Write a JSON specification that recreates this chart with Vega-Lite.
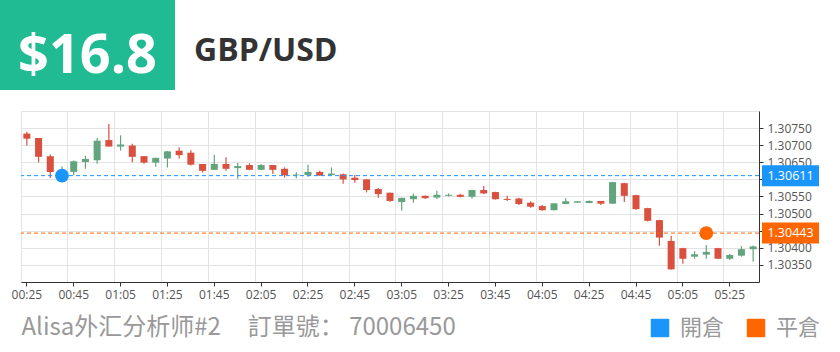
{
  "$schema": "https://vega.github.io/schema/vega-lite/v6.json",
  "background": "white",
  "padding": {"left": 0, "top": 0, "right": 0, "bottom": 12},
  "spacing": 21,
  "config": {"font": "Open Sans", "view": {"stroke": null}},
  "datasets": {
    "header": [{"price": "$16.8", "pair": "GBP/USD", "blank": ""}],
    "trades": [
      {"t": "00:40", "price": 1.30611, "type": "開倉"},
      {"t": "05:15", "price": 1.30443, "type": "平倉"}
    ],
    "candles": [
      {"t": "00:25", "o": 1.30734, "h": 1.30739, "l": 1.30699, "c": 1.30719},
      {"t": "00:30", "o": 1.30721, "h": 1.30721, "l": 1.30650, "c": 1.30666},
      {"t": "00:35", "o": 1.30668, "h": 1.30673, "l": 1.30604, "c": 1.30622},
      {"t": "00:40", "o": 1.30612, "h": 1.30638, "l": 1.30605, "c": 1.30625},
      {"t": "00:45", "o": 1.30622, "h": 1.30655, "l": 1.30612, "c": 1.30653},
      {"t": "00:50", "o": 1.30651, "h": 1.30669, "l": 1.30631, "c": 1.30660},
      {"t": "00:55", "o": 1.30656, "h": 1.30721, "l": 1.30646, "c": 1.30713},
      {"t": "01:00", "o": 1.30715, "h": 1.30762, "l": 1.30696, "c": 1.30696},
      {"t": "01:05", "o": 1.30696, "h": 1.30729, "l": 1.30684, "c": 1.30702},
      {"t": "01:10", "o": 1.30699, "h": 1.30704, "l": 1.30650, "c": 1.30666},
      {"t": "01:15", "o": 1.30668, "h": 1.30668, "l": 1.30646, "c": 1.30649},
      {"t": "01:20", "o": 1.30649, "h": 1.30663, "l": 1.30637, "c": 1.30663},
      {"t": "01:25", "o": 1.30661, "h": 1.30683, "l": 1.30635, "c": 1.30682},
      {"t": "01:30", "o": 1.30684, "h": 1.30694, "l": 1.30661, "c": 1.30671},
      {"t": "01:35", "o": 1.30678, "h": 1.30685, "l": 1.30641, "c": 1.30643},
      {"t": "01:40", "o": 1.30645, "h": 1.30645, "l": 1.30620, "c": 1.30625},
      {"t": "01:45", "o": 1.30628, "h": 1.30672, "l": 1.30628, "c": 1.30645},
      {"t": "01:50", "o": 1.30645, "h": 1.30665, "l": 1.30625, "c": 1.30631},
      {"t": "01:55", "o": 1.30633, "h": 1.30649, "l": 1.30602, "c": 1.30639},
      {"t": "02:00", "o": 1.30642, "h": 1.30647, "l": 1.30627, "c": 1.30628},
      {"t": "02:05", "o": 1.30628, "h": 1.30645, "l": 1.30627, "c": 1.30642},
      {"t": "02:10", "o": 1.30642, "h": 1.30642, "l": 1.30616, "c": 1.30628},
      {"t": "02:15", "o": 1.30631, "h": 1.30635, "l": 1.30605, "c": 1.30612},
      {"t": "02:20", "o": 1.30612, "h": 1.30621, "l": 1.30603, "c": 1.30614},
      {"t": "02:25", "o": 1.30613, "h": 1.30643, "l": 1.30608, "c": 1.30622},
      {"t": "02:30", "o": 1.30622, "h": 1.30625, "l": 1.30611, "c": 1.30611},
      {"t": "02:35", "o": 1.30613, "h": 1.30635, "l": 1.30612, "c": 1.30617},
      {"t": "02:40", "o": 1.30615, "h": 1.30617, "l": 1.30587, "c": 1.30600},
      {"t": "02:45", "o": 1.30605, "h": 1.30613, "l": 1.30590, "c": 1.30598},
      {"t": "02:50", "o": 1.30600, "h": 1.30601, "l": 1.30562, "c": 1.30569},
      {"t": "02:55", "o": 1.30572, "h": 1.30575, "l": 1.30546, "c": 1.30557},
      {"t": "03:00", "o": 1.30561, "h": 1.30562, "l": 1.30535, "c": 1.30537},
      {"t": "03:05", "o": 1.30534, "h": 1.30546, "l": 1.30509, "c": 1.30546},
      {"t": "03:10", "o": 1.30542, "h": 1.30559, "l": 1.30532, "c": 1.30552},
      {"t": "03:15", "o": 1.30552, "h": 1.30553, "l": 1.30543, "c": 1.30545},
      {"t": "03:20", "o": 1.30547, "h": 1.30567, "l": 1.30543, "c": 1.30555},
      {"t": "03:25", "o": 1.30552, "h": 1.30559, "l": 1.30550, "c": 1.30555},
      {"t": "03:30", "o": 1.30555, "h": 1.30558, "l": 1.30548, "c": 1.30549},
      {"t": "03:35", "o": 1.30549, "h": 1.30570, "l": 1.30544, "c": 1.30569},
      {"t": "03:40", "o": 1.30569, "h": 1.30581, "l": 1.30557, "c": 1.30559},
      {"t": "03:45", "o": 1.30563, "h": 1.30564, "l": 1.30541, "c": 1.30542},
      {"t": "03:50", "o": 1.30543, "h": 1.30552, "l": 1.30537, "c": 1.30540},
      {"t": "03:55", "o": 1.30544, "h": 1.30546, "l": 1.30525, "c": 1.30528},
      {"t": "04:00", "o": 1.30532, "h": 1.30536, "l": 1.30517, "c": 1.30520},
      {"t": "04:05", "o": 1.30522, "h": 1.30525, "l": 1.30508, "c": 1.30510},
      {"t": "04:10", "o": 1.30510, "h": 1.30530, "l": 1.30509, "c": 1.30530},
      {"t": "04:15", "o": 1.30528, "h": 1.30545, "l": 1.30527, "c": 1.30536},
      {"t": "04:20", "o": 1.30532, "h": 1.30537, "l": 1.30531, "c": 1.30536},
      {"t": "04:25", "o": 1.30531, "h": 1.30538, "l": 1.30530, "c": 1.30537},
      {"t": "04:30", "o": 1.30537, "h": 1.30537, "l": 1.30525, "c": 1.30529},
      {"t": "04:35", "o": 1.30529, "h": 1.30593, "l": 1.30528, "c": 1.30592},
      {"t": "04:40", "o": 1.30589, "h": 1.30590, "l": 1.30534, "c": 1.30552},
      {"t": "04:45", "o": 1.30554, "h": 1.30555, "l": 1.30511, "c": 1.30513},
      {"t": "04:50", "o": 1.30516, "h": 1.30517, "l": 1.30477, "c": 1.30479},
      {"t": "04:55", "o": 1.30481, "h": 1.30482, "l": 1.30406, "c": 1.30430},
      {"t": "05:00", "o": 1.30420, "h": 1.30435, "l": 1.30336, "c": 1.30337},
      {"t": "05:05", "o": 1.30399, "h": 1.30400, "l": 1.30353, "c": 1.30368},
      {"t": "05:10", "o": 1.30374, "h": 1.30390, "l": 1.30368, "c": 1.30381},
      {"t": "05:15", "o": 1.30380, "h": 1.30408, "l": 1.30368, "c": 1.30388},
      {"t": "05:20", "o": 1.30399, "h": 1.30400, "l": 1.30367, "c": 1.30368},
      {"t": "05:25", "o": 1.30368, "h": 1.30382, "l": 1.30364, "c": 1.30379},
      {"t": "05:30", "o": 1.30377, "h": 1.30405, "l": 1.30374, "c": 1.30396},
      {"t": "05:35", "o": 1.30396, "h": 1.30407, "l": 1.30359, "c": 1.30404}
    ]
  },
  "vconcat": [
    {
      "hconcat": [
        {
          "width": 175,
          "height": 90,
          "view": {"fill": "#20bb93", "stroke": null},
          "data": {"name": "header"},
          "mark": {"type": "text", "color": "white", "fontSize": 54, "fontWeight": "bold", "font": "Open Sans", "baseline": "alphabetic", "dy": 28},
          "encoding": {"text": {"field": "price", "type": "nominal"}}
        },
        {
          "width": 2,
          "height": 90,
          "data": {"name": "header"},
          "mark": {"type": "text", "color": "#333333", "fontSize": 32, "fontWeight": "bold", "font": "Open Sans", "align": "left", "baseline": "alphabetic", "dy": 16},
          "encoding": {"text": {"field": "pair", "type": "nominal"}}
        }
      ],
      "spacing": 18
    },
    {
      "hconcat": [
        {
          "width": 1,
          "height": 171,
          "data": {"name": "header"},
          "mark": {"type": "text"},
          "encoding": {"text": {"field": "blank", "type": "nominal"}}
        },
        {
          "width": 738,
          "height": 171,
          "layer": [
            {
              "data": {"name": "candles"},
              "mark": {"type": "rule", "strokeWidth": 1.2},
              "encoding": {
                "x": {
                  "field": "t", "type": "ordinal",
                  "scale": {"type": "band", "paddingInner": 0, "paddingOuter": 0},
                  "axis": {
                    "orient": "bottom", "values": ["00:25","00:45","01:05","01:25","01:45","02:05","02:25","02:45","03:05","03:25","03:45","04:05","04:25","04:45","05:05","05:25"],
                    "bandPosition": 0, "grid": true, "gridColor": "#e3e3e3", "labels": false, "ticks": false, "domain": false, "title": null
                  }
                },
                "y": {
                  "field": "l", "type": "quantitative",
                  "scale": {"domain": [1.303, 1.308], "nice": false, "zero": false},
                  "axis": {
                    "orient": "left", "values": [1.303, 1.3035, 1.304, 1.3045, 1.305, 1.3055, 1.306, 1.3065, 1.307, 1.3075, 1.308],
                    "grid": true, "gridColor": "#e3e3e3", "labels": false, "ticks": false, "domain": false, "title": null,
                    "minExtent": 0, "maxExtent": 0
                  }
                },
                "y2": {"field": "h"},
                "color": {"condition": {"test": "datum.c >= datum.o", "value": "#62a47e"}, "value": "#d9503f"}
              }
            },
            {
              "data": {"name": "candles"},
              "mark": {"type": "bar", "width": {"band": 0.6}},
              "encoding": {
                "x": {
                  "field": "t", "type": "ordinal",
                  "axis": {
                    "orient": "bottom", "values": ["00:25","00:45","01:05","01:25","01:45","02:05","02:25","02:45","03:05","03:25","03:45","04:05","04:25","04:45","05:05","05:25"],
                    "grid": false, "labelAngle": 0, "labelFontSize": 12, "labelColor": "#555555", "labelPadding": 3,
                    "tickSize": 4, "tickColor": "#333333", "domainColor": "#333333",
                    "title": "Alisa外汇分析师#2\u00a0\u00a0\u00a0\u00a0\u00a0訂單號：\u00a070006450",
                    "titleFont": "Noto Sans CJK SC", "titleFontSize": 24, "titleFontWeight": "normal", "titleColor": "#999999",
                    "titleAnchor": "start", "titleAlign": "left", "titleBaseline": "alphabetic", "titleX": 0, "titleY": 52
                  }
                },
                "y": {
                  "field": "o", "type": "quantitative",
                  "axis": {
                    "orient": "right", "values": [1.3035, 1.304, 1.3045, 1.305, 1.3055, 1.306, 1.3065, 1.307, 1.3075],
                    "format": ".5f", "grid": false, "labelFontSize": 12, "labelColor": "#555555", "labelPadding": 4,
                    "tickSize": 4, "tickColor": "#333333", "domainColor": "#333333", "title": null
                  }
                },
                "y2": {"field": "c"},
                "color": {"condition": {"test": "datum.c >= datum.o", "value": "#62a47e"}, "value": "#d9503f"}
              }
            },
            {
              "data": {"name": "trades"},
              "mark": {"type": "rule", "strokeDash": [4, 3], "strokeWidth": 1},
              "encoding": {
                "y": {"field": "price", "type": "quantitative", "axis": null},
                "color": {"condition": {"test": "datum.type === '開倉'", "value": "#1a96fa"}, "value": "#ff6600"}
              }
            },
            {
              "data": {"name": "trades"},
              "mark": {"type": "circle", "size": 190, "opacity": 1},
              "encoding": {
                "x": {"field": "t", "type": "ordinal", "axis": null},
                "y": {"field": "price", "type": "quantitative", "axis": null},
                "color": {
                  "field": "type", "type": "nominal",
                  "scale": {"domain": ["開倉", "平倉"], "range": ["#1a96fa", "#ff6600"]},
                  "legend": {
                    "orient": "none", "legendX": 649, "legendY": 317, "direction": "horizontal", "title": null,
                    "symbolType": "square", "symbolSize": 340, "symbolStrokeWidth": 0, "symbolOpacity": 1,
                    "labelFont": "Noto Sans CJK TC", "labelFontSize": 22, "labelColor": "#999999",
                    "labelOffset": 9, "columnPadding": 20
                  }
                }
              }
            },
            {
              "data": {"name": "trades"},
              "mark": {"type": "point", "x": "width", "xOffset": 31.5, "shape": "M-1,-0.368H1V0.368H-1Z", "size": 3249, "filled": true, "opacity": 1, "strokeWidth": 0},
              "encoding": {
                "y": {"field": "price", "type": "quantitative", "axis": null},
                "color": {"condition": {"test": "datum.type === '開倉'", "value": "#1a96fa"}, "value": "#ff6600"}
              }
            },
            {
              "data": {"name": "trades"},
              "mark": {"type": "text", "x": "width", "xOffset": 31.5, "align": "center", "baseline": "middle", "color": "white", "fontSize": 12.5, "font": "Open Sans"},
              "encoding": {
                "y": {"field": "price", "type": "quantitative", "axis": null},
                "text": {"field": "price", "type": "quantitative", "format": ".5f"}
              }
            }
          ],
          "resolve": {"axis": {"x": "independent", "y": "independent"}}
        }
      ],
      "spacing": 10
    }
  ]
}
